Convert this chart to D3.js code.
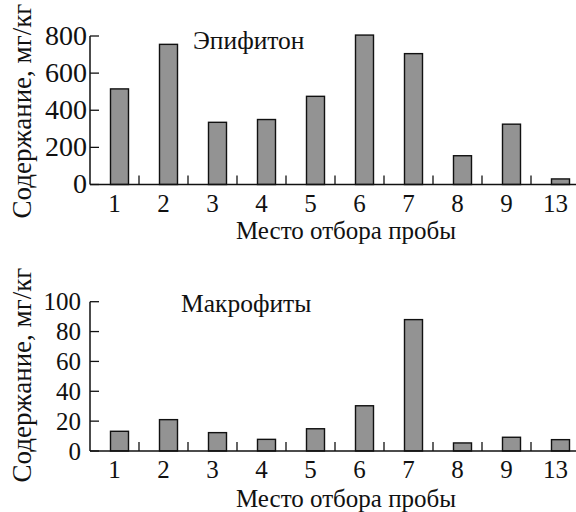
<!DOCTYPE html>
<html>
<head>
<meta charset="utf-8">
<script src="https://cdn.jsdelivr.net/npm/d3@7"></script>
<style>
  html, body { margin: 0; padding: 0; background: #fff; }
</style>
</head>
<body>
<svg id="chart" width="576" height="512"></svg>
<script>
var sites = ['1', '2', '3', '4', '5', '6', '7', '8', '9', '13'];
var epiphyton = [515, 755, 335, 350, 475, 805, 705, 155, 325, 30];
var macrophytes = [13.2, 21, 12.3, 7.8, 14.9, 30.3, 88, 5.4, 9.2, 7.6];
var epiTicks = [0, 200, 400, 600, 800];
var macroTicks = [0, 20, 40, 60, 80, 100];

var svg = d3.select('#chart')
  .attr('font-family', "'Liberation Serif', 'DejaVu Serif', serif");

function panel(opts) {
  var x = d3.scaleBand().domain(sites).range([90, 580]).padding(0);
  var y = d3.scaleLinear().domain([0, opts.max]).range([opts.bottom, opts.top]);
  var g = svg.append('g');

  // bars sit right of the band centre, as in the original
  g.selectAll('rect')
    .data(opts.values)
    .enter()
    .append('rect')
    .attr('x', function (d, i) { return x(sites[i]) + 20.5; })
    .attr('y', function (d) { return y(d); })
    .attr('width', 18)
    .attr('height', function (d) { return y(0) - y(d); })
    .attr('fill', '#939393')
    .attr('stroke', '#111')
    .attr('stroke-width', 1.4);

  // x axis: line + upward ticks on band boundaries
  g.append('line')
    .attr('x1', 90).attr('x2', 580)
    .attr('y1', y(0)).attr('y2', y(0))
    .attr('stroke', '#111').attr('stroke-width', 1.5);
  g.selectAll('.xt')
    .data(sites.slice(1))
    .enter()
    .append('line')
    .attr('x1', function (d) { return x(d); })
    .attr('x2', function (d) { return x(d); })
    .attr('y1', y(0)).attr('y2', y(0) - 9)
    .attr('stroke', '#111').attr('stroke-width', 1.3);
  g.selectAll('.xl')
    .data(sites)
    .enter()
    .append('text')
    .attr('x', function (d) { return x(d) + x.bandwidth() / 2; })
    .attr('y', y(0) + 27)
    .attr('text-anchor', 'middle')
    .attr('font-size', 25)
    .attr('fill', '#111')
    .text(function (d) { return d; });

  // y axis with inward ticks
  g.append('line')
    .attr('x1', 90).attr('x2', 90)
    .attr('y1', y(opts.max)).attr('y2', y(0))
    .attr('stroke', '#111').attr('stroke-width', 1.5);
  g.selectAll('.yt')
    .data(opts.ticks)
    .enter()
    .append('line')
    .attr('x1', 90).attr('x2', 99)
    .attr('y1', function (d) { return y(d); })
    .attr('y2', function (d) { return y(d); })
    .attr('stroke', '#111').attr('stroke-width', 1.3);
  g.selectAll('.yl')
    .data(opts.ticks)
    .enter()
    .append('text')
    .attr('x', opts.tickRight)
    .attr('y', function (d) { return y(d) + 8.5; })
    .attr('text-anchor', 'end')
    .attr('font-size', opts.tickSize)
    .attr('fill', '#111')
    .text(function (d) { return d; });

  g.append('text')
    .attr('transform', 'translate(31,' + opts.labelY + ') rotate(-90)')
    .attr('text-anchor', 'middle')
    .attr('font-size', 27)
    .attr('fill', '#111')
    .text('Содержание, мг/кг');

  g.append('text')
    .attr('x', 346)
    .attr('y', opts.titleY)
    .attr('text-anchor', 'middle')
    .attr('font-size', 25)
    .attr('fill', '#111')
    .text('Место отбора пробы');

  g.append('text')
    .attr('x', opts.nameX)
    .attr('y', opts.nameY)
    .attr('font-size', 25.5)
    .attr('fill', '#111')
    .text(opts.name);
}

panel({ values: epiphyton, max: 800, ticks: epiTicks, top: 36, bottom: 184.5,
        tickSize: 28, tickRight: 87,
        labelY: 111, titleY: 239, name: 'Эпифитон', nameX: 193, nameY: 49 });
panel({ values: macrophytes, max: 100, ticks: macroTicks, top: 301.7, bottom: 451,
        tickSize: 25, tickRight: 81,
        labelY: 375, titleY: 507, name: 'Макрофиты', nameX: 181, nameY: 312 });
</script>
</body>
</html>
